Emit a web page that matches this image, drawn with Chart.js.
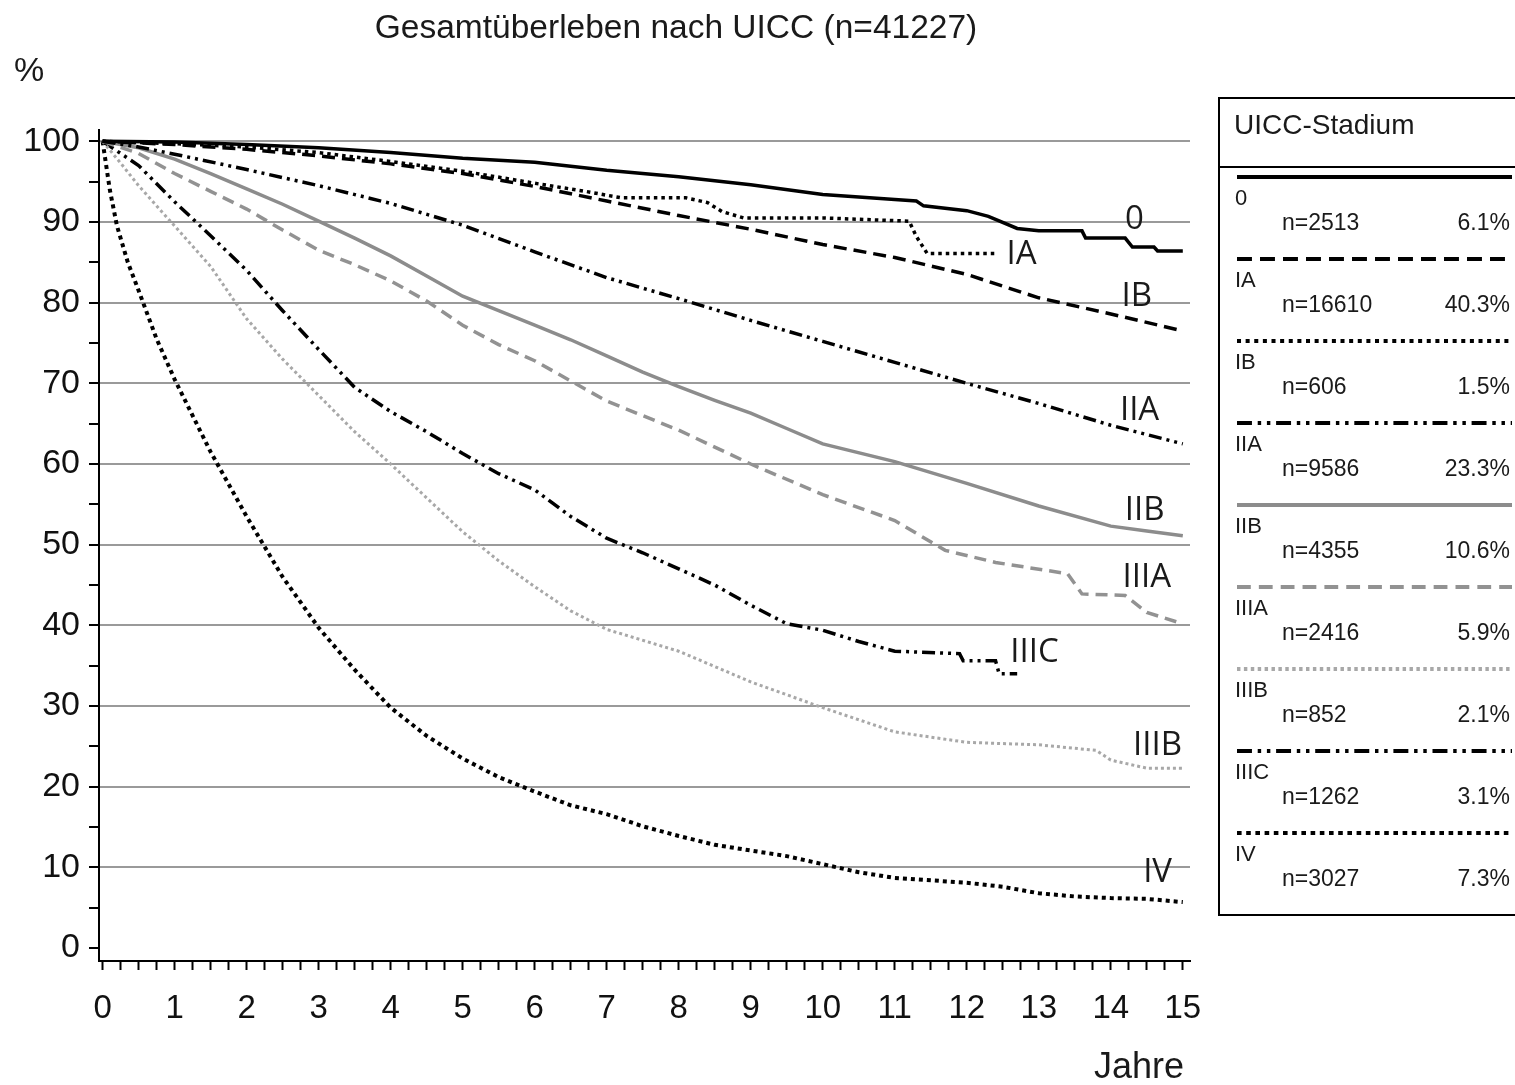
<!DOCTYPE html>
<html>
<head>
<meta charset="utf-8">
<script src="https://cdn.jsdelivr.net/npm/chart.js@4/dist/chart.umd.min.js"></script>
<style>
  html, body { margin: 0; padding: 0; background: #fff; }
  canvas { display: block; }
</style>
</head>
<body>
<canvas id="c" width="1515" height="1085"></canvas>
<script>
const TITLE = 'Gesamtüberleben nach UICC (n=41227)'
const STAGES = ['0', 'IA', 'IB', 'IIA', 'IIB', 'IIIA', 'IIIB', 'IIIC', 'IV']
const COUNTS = ['n=2513', 'n=16610', 'n=606', 'n=9586', 'n=4355', 'n=2416', 'n=852', 'n=1262', 'n=3027']
const SHARES = ['6.1%', '40.3%', '1.5%', '23.3%', '10.6%', '5.9%', '2.1%', '3.1%', '7.3%']
const X_TICKS = Array.from({ length: 61 }, (_, i) => i * 0.25)
const Y_TICKS = Array.from({ length: 21 }, (_, i) => i * 5)

// survival curves (years / %)
const T_0 = [0, 1, 2, 3, 4, 5, 6, 7, 8, 9, 10, 11, 11.3, 11.4, 12, 12.3, 12.7, 13, 13.6, 13.65, 14.2, 14.3, 14.6, 14.65, 15]
const S_0 = [100, 99.9, 99.6, 99.2, 98.6, 97.9, 97.4, 96.4, 95.6, 94.6, 93.4, 92.8, 92.6, 92.0, 91.4, 90.7, 89.2, 88.9, 88.9, 88.0, 88.0, 86.9, 86.9, 86.4, 86.4]
const T_IA = [0, 1, 2, 3, 4, 5, 6, 7, 8, 9, 10, 11, 12, 13, 14, 15]
const S_IA = [100, 99.6, 99.0, 98.2, 97.2, 96.0, 94.4, 92.6, 90.8, 89.1, 87.2, 85.6, 83.5, 80.6, 78.6, 76.5]
const T_IB = [0, 1, 2, 3, 4, 5, 6, 6.7, 7.2, 8.1, 8.4, 8.6, 8.9, 10, 11.2, 11.3, 11.45, 12.4]
const S_IB = [100, 99.7, 99.3, 98.6, 97.5, 96.3, 94.8, 93.8, 93.0, 93.0, 92.4, 91.3, 90.5, 90.5, 90.1, 88.2, 86.1, 86.1]
const T_IIA = [0, 0.5, 1, 2, 3, 4, 5, 6, 7, 8, 9, 10, 11, 12, 13, 14, 15]
const S_IIA = [100, 99.3, 98.4, 96.5, 94.5, 92.3, 89.6, 86.3, 83.1, 80.5, 77.8, 75.2, 72.6, 70.0, 67.5, 64.8, 62.5]
const T_IIB = [0, 0.5, 1, 1.5, 2, 2.5, 3, 3.5, 4, 4.5, 5, 5.5, 6, 6.5, 7, 7.5, 8, 8.5, 9, 9.5, 10, 11, 12, 13, 14, 14.5, 15]
const S_IIB = [100, 99.2, 97.8, 96.0, 94.1, 92.2, 90.1, 88.0, 85.8, 83.3, 80.8, 79.0, 77.2, 75.4, 73.4, 71.4, 69.6, 67.9, 66.3, 64.4, 62.5, 60.3, 57.6, 54.8, 52.3, 51.7, 51.1]
const T_IIIA = [0, 0.5, 1, 1.5, 2, 2.5, 3, 3.5, 4, 4.5, 5, 5.5, 6, 7, 8, 9, 10, 11, 11.7, 12.4, 13.4, 13.6, 14.2, 14.5, 15]
const S_IIIA = [100, 98.5, 96.0, 93.8, 91.6, 89.0, 86.5, 84.7, 82.7, 80.2, 77.2, 74.8, 72.8, 67.8, 64.2, 60.0, 56.2, 53.0, 49.3, 47.8, 46.4, 43.9, 43.7, 41.6, 40.2]
const T_IIIB = [0, 0.25, 0.5, 1, 1.5, 2, 2.5, 3, 3.5, 4, 4.5, 5, 5.5, 6, 6.5, 7, 8, 9, 10, 11, 12, 13, 13.8, 14, 14.5, 15]
const S_IIIB = [100, 97.3, 94.5, 89.5, 84.5, 78.0, 73.0, 68.5, 64.0, 60.0, 55.8, 51.6, 48.0, 44.8, 41.8, 39.5, 36.8, 33.0, 29.8, 26.8, 25.5, 25.2, 24.5, 23.3, 22.3, 22.3]
const T_IIIC = [0, 0.25, 0.5, 1, 1.5, 2, 2.5, 3, 3.5, 4, 4.5, 5, 5.5, 6, 6.5, 7, 7.5, 8, 8.5, 9, 9.5, 10, 10.5, 11, 11.9, 11.95, 12.4, 12.45, 12.7]
const S_IIIC = [100, 98.5, 97.0, 92.5, 88.3, 84.0, 79.0, 74.2, 69.5, 66.5, 64.0, 61.3, 58.8, 56.8, 53.5, 50.8, 49.0, 47.0, 45.0, 42.5, 40.2, 39.4, 38.0, 36.8, 36.5, 35.6, 35.6, 34.0, 34.0]
const T_IV = [0, 0.05, 0.1, 0.2, 0.35, 0.5, 0.75, 1, 1.5, 2, 2.5, 3, 3.5, 4, 4.5, 5, 5.5, 6, 6.5, 7, 7.5, 8, 8.5, 9, 9.5, 10, 10.5, 11, 12, 12.5, 13, 13.5, 14, 14.5, 15]
const S_IV = [100, 97, 94, 89.5, 85, 81.5, 75.5, 70.5, 61.5, 53.5, 46, 39.7, 34.5, 29.8, 26.3, 23.5, 21.2, 19.4, 17.7, 16.6, 15.1, 13.9, 12.8, 12.1, 11.4, 10.4, 9.4, 8.7, 8.1, 7.6, 6.8, 6.4, 6.2, 6.1, 5.7]

const TIMES = [T_0, T_IA, T_IB, T_IIA, T_IIB, T_IIIA, T_IIIB, T_IIIC, T_IV]
const SURV = [S_0, S_IA, S_IB, S_IIA, S_IIB, S_IIIA, S_IIIB, S_IIIC, S_IV]

const STYLES = [
  { color: '#000', dash: [], width: 3.5 },
  { color: '#000', dash: [13, 7], width: 3.5 },
  { color: '#000', dash: [3.5, 4], width: 3.5 },
  { color: '#000', dash: [13, 5, 3, 5, 3, 5], width: 3.5 },
  { color: '#8c8c8c', dash: [], width: 3.5 },
  { color: '#929292', dash: [12, 7], width: 3.5 },
  { color: '#a8a8a8', dash: [3, 3], width: 3 },
  { color: '#000', dash: [13, 5, 3, 5, 3, 5], width: 3.5 },
  { color: '#000', dash: [4, 4], width: 4 },
]

// where the stage names sit inside the plot (years, %)
const TAGS = [
  ['0', 14.33, 90.3], ['IA', 12.76, 86.0], ['IB', 14.36, 80.7], ['IIA', 14.4, 66.6],
  ['IIB', 14.47, 54.2], ['IIIA', 14.5, 45.9], ['IIIC', 12.94, 36.6], ['IIIB', 14.65, 25.1], ['IV', 14.65, 9.3],
]

const FONT = '"Liberation Sans", Arial, sans-serif'

const decor = {
  id: 'decor',
  afterDraw(chart) {
    const { ctx, scales: { x, y } } = chart
    ctx.save()
    ctx.fillStyle = '#1a1a1a'
    ctx.textBaseline = 'middle'
    ctx.textAlign = 'center'
    ctx.font = '33.5px ' + FONT
    ctx.fillText(TITLE, 676, 29)
    ctx.textAlign = 'left'
    ctx.font = '34px ' + FONT
    ctx.fillText('%', 14, 72)
    ctx.textAlign = 'right'
    ctx.font = '36px ' + FONT
    ctx.fillText('Jahre', 1184, 1068)

    // labels inside the plot
    ctx.textAlign = 'center'
    ctx.font = '33px "Open Sans", sans-serif'
    TAGS.forEach(([t, tx, ty]) => ctx.fillText(t, x.getPixelForValue(tx), y.getPixelForValue(ty)))

    // legend box
    ctx.strokeStyle = '#000'
    ctx.lineWidth = 2
    ctx.setLineDash([])
    ctx.strokeRect(1219, 98, 320, 817)
    ctx.beginPath(); ctx.moveTo(1219, 167); ctx.lineTo(1515, 167); ctx.stroke()
    ctx.textAlign = 'left'
    ctx.font = '28px ' + FONT
    ctx.fillText('UICC-Stadium', 1234, 126)
    chart.data.datasets.forEach((ds, i) => {
      const y0 = 177 + 82 * i
      ctx.strokeStyle = ds.borderColor
      ctx.lineWidth = 4
      ctx.setLineDash(ds.borderDash.map(v => v * 1.15))
      ctx.beginPath(); ctx.moveTo(1237, y0); ctx.lineTo(1512, y0); ctx.stroke()
      ctx.fillStyle = '#1a1a1a'
      ctx.textAlign = 'left'
      ctx.font = '22px ' + FONT
      ctx.fillText(STAGES[i], 1235, y0 + 22)
      ctx.font = '23px ' + FONT
      ctx.fillText(COUNTS[i], 1282, y0 + 47)
      ctx.textAlign = 'right'
      ctx.fillText(SHARES[i], 1510, y0 + 47)
    })
    ctx.restore()
  },
}

new Chart(document.getElementById('c'), {
  type: 'line',
  data: {
    datasets: STAGES.map((s, i) => ({
      label: s,
      data: TIMES[i].map((t, k) => ({ x: t, y: SURV[i][k] })),
      borderColor: STYLES[i].color,
      borderDash: STYLES[i].dash,
      borderWidth: STYLES[i].width,
      borderCapStyle: 'butt',
      pointRadius: 0,
      tension: 0,
      fill: false,
    })),
  },
  options: {
    responsive: false,
    devicePixelRatio: 1,
    animation: false,
    layout: { padding: { top: 130, right: 325, left: 0, bottom: 0 } },
    plugins: { legend: { display: false }, tooltip: { enabled: false } },
    scales: {
      x: {
        type: 'linear', min: -0.05, max: 15.1,
        afterBuildTicks: s => { s.ticks = X_TICKS.map(v => ({ value: v })) },
        afterFit: s => { s.height = 124 },
        ticks: { autoSkip: false, maxRotation: 0, padding: 19, color: '#111', font: { family: FONT, size: 33 },
          callback: v => Number.isInteger(v) ? String(v) : '' },
        grid: { drawOnChartArea: false, tickLength: 9, tickColor: '#000', tickWidth: 2 },
        border: { color: '#000', width: 2 },
      },
      y: {
        type: 'linear', min: -1.6, max: 101.4,
        afterBuildTicks: s => { s.ticks = Y_TICKS.map(v => ({ value: v })) },
        afterFit: s => { s.width = 99 },
        ticks: { autoSkip: false, padding: 9, color: '#111', font: { family: FONT, size: 34 },
          callback: v => v % 10 === 0 ? String(v) : '' },
        grid: {
          color: c => (c.tick && c.tick.value % 10 === 0 && c.tick.value > 0) ? '#9a9a9a' : 'rgba(0,0,0,0)',
          lineWidth: 2, tickLength: 10, tickColor: '#000', tickWidth: 2,
        },
        border: { color: '#000', width: 2 },
      },
    },
  },
  plugins: [decor],
})
</script>
</body>
</html>
